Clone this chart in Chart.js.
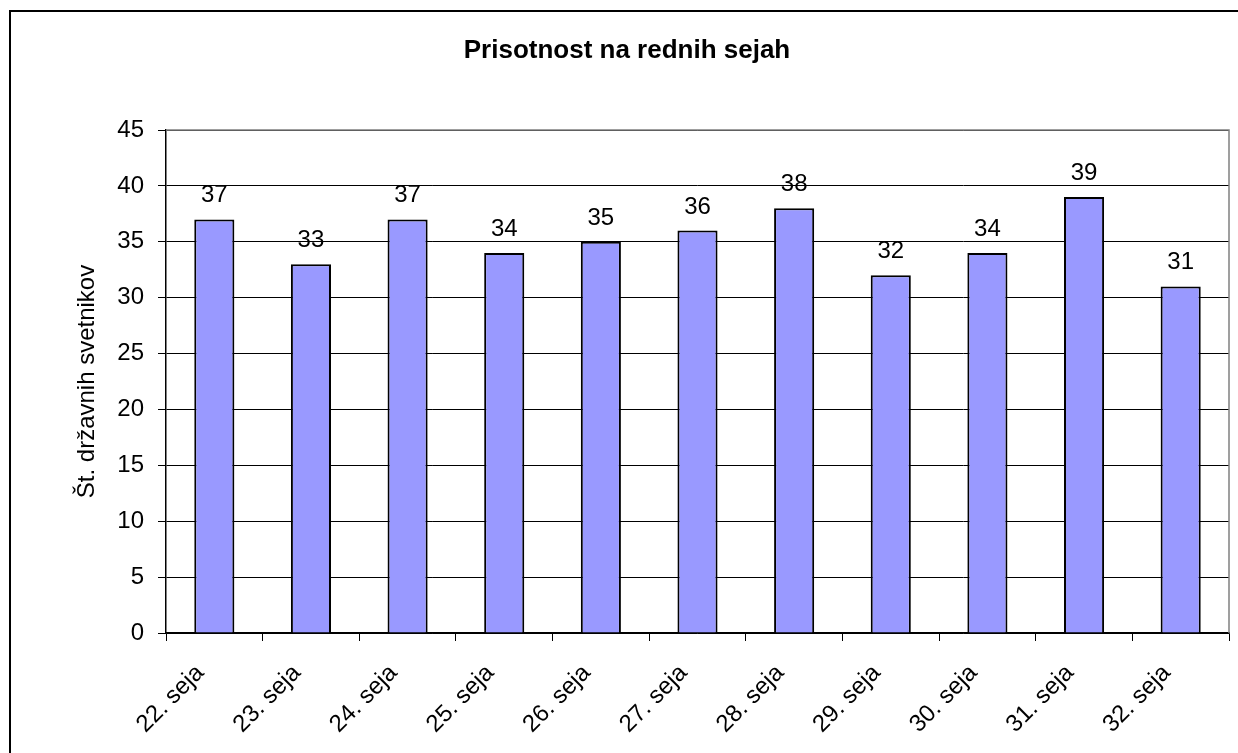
<!DOCTYPE html>
<html>
<head>
<meta charset="utf-8">
<title>Prisotnost na rednih sejah</title>
<script src="https://cdn.jsdelivr.net/npm/chart.js@4.4.1/dist/chart.umd.min.js"></script>
<style>
    html, body { margin: 0; padding: 0; background: #fff; }
    #chartBox { width: 1238px; height: 753px; }
</style>
</head>
<body>
<div id="chartBox"><canvas id="attendanceChart"></canvas></div>
<script>
// Datos del gráfico
const sessions = ['22. seja', '23. seja', '24. seja', '25. seja', '26. seja', '27. seja',
                  '28. seja', '29. seja', '30. seja', '31. seja', '32. seja'];
const councillors = [37, 33, 37, 34, 35, 36, 38, 32, 34, 39, 31];
const yTicks = [0, 5, 10, 15, 20, 25, 30, 35, 40, 45];

const chartTitle = 'Prisotnost na rednih sejah';
const yTitle = 'Št. državnih svetnikov';
const fontName = '"Liberation Sans", Arial, sans-serif';

// Plugin para el marco exterior, el título y el borde del área
const frameAndTitle = {
    id: 'frameAndTitle',
    beforeDraw(chart) {
        const ctx = chart.ctx;
        ctx.save();
        ctx.fillStyle = '#fff';
        ctx.fillRect(0, 0, chart.width, chart.height);
        ctx.strokeStyle = '#000';
        ctx.lineWidth = 2;
        ctx.strokeRect(10, 11, chart.width + 20, chart.height + 20);
        ctx.fillStyle = '#000';
        ctx.font = `bold 26px ${fontName}`;
        ctx.textAlign = 'center';
        ctx.textBaseline = 'middle';
        ctx.fillText(chartTitle, 627, 51);
        ctx.restore();
    },
    afterDatasetsDraw(chart) {
        const ctx = chart.ctx;
        const area = chart.chartArea;
        ctx.save();
        // borde gris arriba y a la derecha
        ctx.strokeStyle = '#808080';
        ctx.lineWidth = 1.5;
        ctx.beginPath();
        ctx.moveTo(area.left, area.top);
        ctx.lineTo(area.right, area.top);
        ctx.lineTo(area.right, area.bottom);
        ctx.stroke();

        // etiquetas de valores sobre las barras
        const meta = chart.getDatasetMeta(0);
        ctx.fillStyle = '#000';
        ctx.font = `24px ${fontName}`;
        ctx.textAlign = 'center';
        ctx.textBaseline = 'alphabetic';
        meta.data.forEach((bar, i) => {
            ctx.fillText(String(councillors[i]), bar.x, bar.y - 17);
        });
        ctx.restore();
    }
};

const ctx = document.getElementById('attendanceChart').getContext('2d');
new Chart(ctx, {
    type: 'bar',
    data: {
        labels: sessions,
        datasets: [{
            data: councillors,
            backgroundColor: '#9999FF',
            borderColor: '#000',
            borderWidth: 2,
            categoryPercentage: 1,
            barPercentage: 0.415
        }]
    },
    options: {
        responsive: true,
        maintainAspectRatio: false,
        animation: false,
        layout: { padding: { top: 130, right: 9, left: 0, bottom: 0 } },
        plugins: {
            legend: { display: false },
            tooltip: { enabled: false }
        },
        scales: {
            x: {
                offset: true,
                grid: {
                    offset: true,
                    drawOnChartArea: false,
                    color: '#000',
                    tickLength: 8
                },
                border: { color: '#000', width: 1.5 },
                ticks: {
                    color: '#000',
                    font: { family: fontName, size: 24 },
                    minRotation: 45,
                    maxRotation: 45,
                    padding: 18,
                    labelOffset: -14
                },
                afterFit(scale) { scale.height = 120; }
            },
            y: {
                min: 0,
                max: 45,
                afterBuildTicks(scale) {
                    scale.ticks = yTicks.map(v => ({ value: v }));
                },
                grid: {
                    color: '#000',
                    lineWidth: 1,
                    tickLength: 8
                },
                border: { color: '#000', width: 1.5 },
                ticks: {
                    color: '#000',
                    font: { family: fontName, size: 24 },
                    padding: 14
                },
                title: {
                    display: true,
                    text: yTitle,
                    color: '#000',
                    font: { family: fontName, size: 24 },
                    padding: { top: 73, bottom: 0 }
                },
                afterFit(scale) { scale.width = 166; }
            }
        }
    },
    plugins: [frameAndTitle]
});
</script>
</body>
</html>
